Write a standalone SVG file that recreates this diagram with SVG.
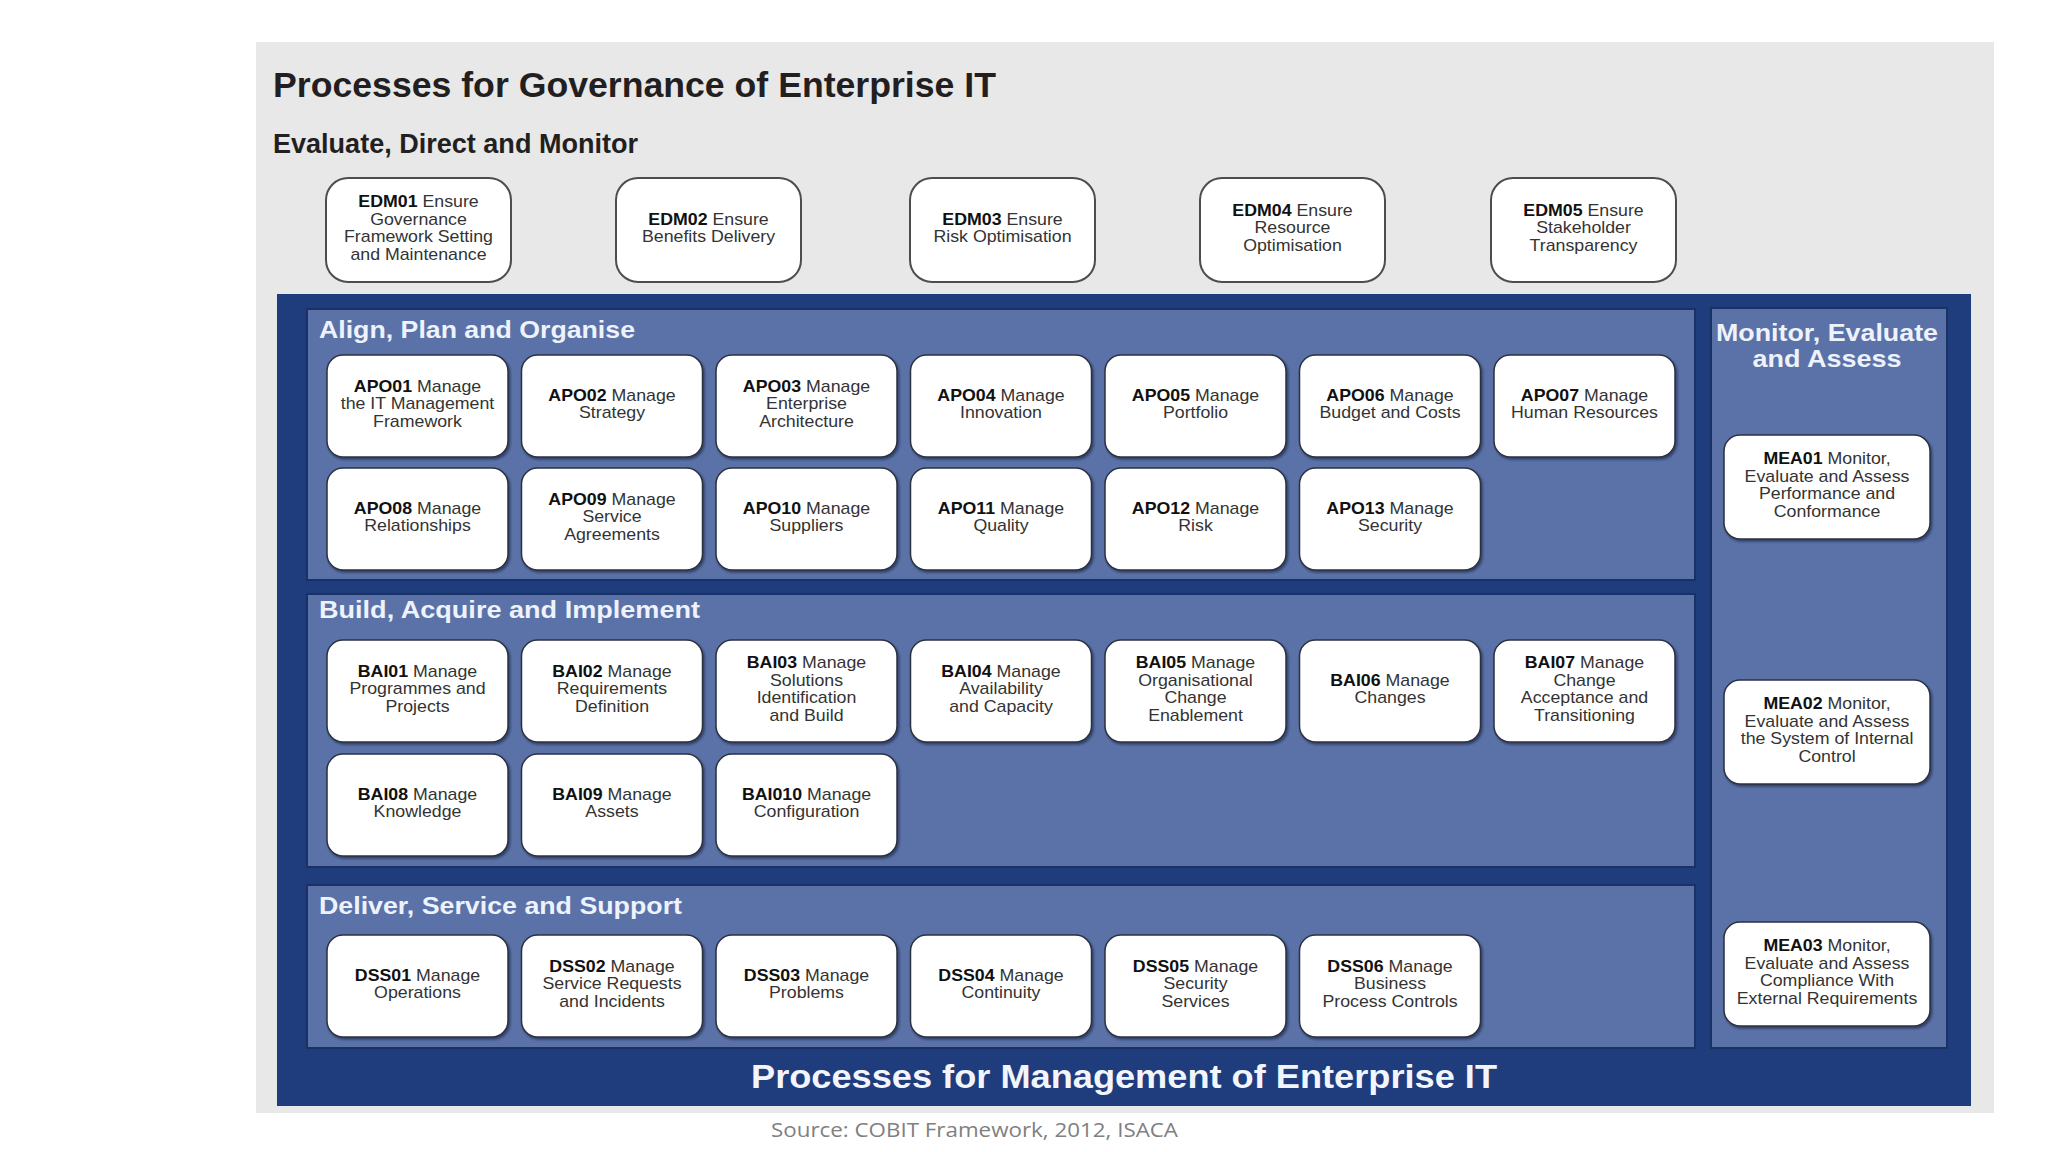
<svg xmlns="http://www.w3.org/2000/svg" width="2048" height="1152" viewBox="0 0 2048 1152">
<defs>
<filter id="sh" x="-10%" y="-10%" width="125%" height="125%">
<feDropShadow dx="1.5" dy="2" stdDeviation="1.2" flood-color="#0b1a3a" flood-opacity="0.6"/>
</filter>
</defs>
<style>
.bg{fill:#ffffff}
.grey{fill:#e8e8e9}
.navy{fill:#1f3c7c}
.panel{fill:#5b72a8;stroke:#1a3164;stroke-width:2}
.edm{fill:#ffffff;stroke:#4d4d4d;stroke-width:2}
.box{fill:#ffffff;stroke:#2c3140;stroke-width:1.5;filter:url(#sh)}
.nt{font-family:"Liberation Sans",Arial,sans-serif;font-size:16px;fill:#333333;text-anchor:middle}
.b{font-weight:bold;fill:#111111}
.h1{font-family:"Liberation Sans",Arial,sans-serif;font-weight:bold;fill:#231f20}
.sec{font-family:"Liberation Sans",Arial,sans-serif;font-weight:bold;font-size:24px;fill:#eef2fb}
.foot{font-family:"Liberation Sans",Arial,sans-serif;font-weight:bold;font-size:33px;fill:#f2f5fc}
.src{font-family:"Open Sans","Liberation Sans",Arial,sans-serif;font-size:20px;fill:#808080}
</style>
<rect class="bg" x="0" y="0" width="2048" height="1152"/>
<rect class="grey" x="256" y="42" width="1738" height="1071"/>
<text class="h1" x="273" y="97" font-size="35" textLength="723" lengthAdjust="spacingAndGlyphs">Processes for Governance of Enterprise IT</text>
<text class="h1" x="273" y="153" font-size="28" textLength="365" lengthAdjust="spacingAndGlyphs">Evaluate, Direct and Monitor</text>

<rect class="navy" x="277" y="294" width="1694" height="812"/>
<g id="panel-apo"><rect class="panel" x="307" y="309" width="1388" height="271"/>
<text class="sec" x="319" y="338" textLength="316" lengthAdjust="spacingAndGlyphs">Align, Plan and Organise</text></g>
<g id="panel-bai"><rect class="panel" x="307" y="594" width="1388" height="273"/>
<text class="sec" x="319" y="618" textLength="381" lengthAdjust="spacingAndGlyphs">Build, Acquire and Implement</text></g>
<g id="panel-dss"><rect class="panel" x="307" y="885" width="1388" height="163"/>
<text class="sec" x="319" y="914" textLength="363" lengthAdjust="spacingAndGlyphs">Deliver, Service and Support</text></g>
<g id="panel-mea"><rect class="panel" x="1711" y="308" width="236" height="740"/>
<text class="sec" x="1827" y="341" text-anchor="middle" textLength="222" lengthAdjust="spacingAndGlyphs">Monitor, Evaluate</text>
<text class="sec" x="1827" y="367" text-anchor="middle" textLength="149" lengthAdjust="spacingAndGlyphs">and Assess</text></g>
<text class="foot" x="751" y="1088" textLength="746" lengthAdjust="spacingAndGlyphs">Processes for Management of Enterprise IT</text>
<text class="src" x="771" y="1137" textLength="407" lengthAdjust="spacingAndGlyphs">Source: COBIT Framework, 2012, ISACA</text>

<g id="connectors"></g>

<!-- EDM -->
<g id="EDM01"><rect class="edm" x="326" y="178" width="185" height="104" rx="22"/>
<g class="nt" transform="translate(418.5 0) scale(1.11 1)"><text x="0" y="207"><tspan class="b">EDM01</tspan> Ensure</text><text x="0" y="224.7">Governance</text><text x="0" y="242.4">Framework Setting</text><text x="0" y="260.1">and Maintenance</text></g></g>
<g id="EDM02"><rect class="edm" x="616" y="178" width="185" height="104" rx="22"/>
<g class="nt" transform="translate(708.5 0) scale(1.11 1)"><text x="0" y="224.7"><tspan class="b">EDM02</tspan> Ensure</text><text x="0" y="242.4">Benefits Delivery</text></g></g>
<g id="EDM03"><rect class="edm" x="910" y="178" width="185" height="104" rx="22"/>
<g class="nt" transform="translate(1002.5 0) scale(1.11 1)"><text x="0" y="224.7"><tspan class="b">EDM03</tspan> Ensure</text><text x="0" y="242.4">Risk Optimisation</text></g></g>
<g id="EDM04"><rect class="edm" x="1200" y="178" width="185" height="104" rx="22"/>
<g class="nt" transform="translate(1292.5 0) scale(1.11 1)"><text x="0" y="215.8"><tspan class="b">EDM04</tspan> Ensure</text><text x="0" y="233.5">Resource</text><text x="0" y="251.2">Optimisation</text></g></g>
<g id="EDM05"><rect class="edm" x="1491" y="178" width="185" height="104" rx="22"/>
<g class="nt" transform="translate(1583.5 0) scale(1.11 1)"><text x="0" y="215.8"><tspan class="b">EDM05</tspan> Ensure</text><text x="0" y="233.5">Stakeholder</text><text x="0" y="251.2">Transparency</text></g></g>

<!-- APO row 1 -->
<g id="APO01"><rect class="box" x="327" y="355" width="181" height="102" rx="16"/>
<g class="nt" transform="translate(417.5 0) scale(1.11 1)"><text x="0" y="391.8"><tspan class="b">APO01</tspan> Manage</text><text x="0" y="409.5">the IT Management</text><text x="0" y="427.2">Framework</text></g></g>
<g id="APO02"><rect class="box" x="521.5" y="355" width="181" height="102" rx="16"/>
<g class="nt" transform="translate(612 0) scale(1.11 1)"><text x="0" y="400.7"><tspan class="b">APO02</tspan> Manage</text><text x="0" y="418.4">Strategy</text></g></g>
<g id="APO03"><rect class="box" x="716" y="355" width="181" height="102" rx="16"/>
<g class="nt" transform="translate(806.5 0) scale(1.11 1)"><text x="0" y="391.8"><tspan class="b">APO03</tspan> Manage</text><text x="0" y="409.5">Enterprise</text><text x="0" y="427.2">Architecture</text></g></g>
<g id="APO04"><rect class="box" x="910.5" y="355" width="181" height="102" rx="16"/>
<g class="nt" transform="translate(1001 0) scale(1.11 1)"><text x="0" y="400.7"><tspan class="b">APO04</tspan> Manage</text><text x="0" y="418.4">Innovation</text></g></g>
<g id="APO05"><rect class="box" x="1105" y="355" width="181" height="102" rx="16"/>
<g class="nt" transform="translate(1195.5 0) scale(1.11 1)"><text x="0" y="400.7"><tspan class="b">APO05</tspan> Manage</text><text x="0" y="418.4">Portfolio</text></g></g>
<g id="APO06"><rect class="box" x="1299.5" y="355" width="181" height="102" rx="16"/>
<g class="nt" transform="translate(1390 0) scale(1.11 1)"><text x="0" y="400.7"><tspan class="b">APO06</tspan> Manage</text><text x="0" y="418.4">Budget and Costs</text></g></g>
<g id="APO07"><rect class="box" x="1494" y="355" width="181" height="102" rx="16"/>
<g class="nt" transform="translate(1584.5 0) scale(1.11 1)"><text x="0" y="400.7"><tspan class="b">APO07</tspan> Manage</text><text x="0" y="418.4">Human Resources</text></g></g>

<!-- APO row 2 -->
<g id="APO08"><rect class="box" x="327" y="468" width="181" height="102" rx="16"/>
<g class="nt" transform="translate(417.5 0) scale(1.11 1)"><text x="0" y="513.7"><tspan class="b">APO08</tspan> Manage</text><text x="0" y="531.4">Relationships</text></g></g>
<g id="APO09"><rect class="box" x="521.5" y="468" width="181" height="102" rx="16"/>
<g class="nt" transform="translate(612 0) scale(1.11 1)"><text x="0" y="504.8"><tspan class="b">APO09</tspan> Manage</text><text x="0" y="522.5">Service</text><text x="0" y="540.2">Agreements</text></g></g>
<g id="APO10"><rect class="box" x="716" y="468" width="181" height="102" rx="16"/>
<g class="nt" transform="translate(806.5 0) scale(1.11 1)"><text x="0" y="513.7"><tspan class="b">APO10</tspan> Manage</text><text x="0" y="531.4">Suppliers</text></g></g>
<g id="APO11"><rect class="box" x="910.5" y="468" width="181" height="102" rx="16"/>
<g class="nt" transform="translate(1001 0) scale(1.11 1)"><text x="0" y="513.7"><tspan class="b">APO11</tspan> Manage</text><text x="0" y="531.4">Quality</text></g></g>
<g id="APO12"><rect class="box" x="1105" y="468" width="181" height="102" rx="16"/>
<g class="nt" transform="translate(1195.5 0) scale(1.11 1)"><text x="0" y="513.7"><tspan class="b">APO12</tspan> Manage</text><text x="0" y="531.4">Risk</text></g></g>
<g id="APO13"><rect class="box" x="1299.5" y="468" width="181" height="102" rx="16"/>
<g class="nt" transform="translate(1390 0) scale(1.11 1)"><text x="0" y="513.7"><tspan class="b">APO13</tspan> Manage</text><text x="0" y="531.4">Security</text></g></g>

<!-- BAI row 1 -->
<g id="BAI01"><rect class="box" x="327" y="640" width="181" height="102" rx="16"/>
<g class="nt" transform="translate(417.5 0) scale(1.11 1)"><text x="0" y="676.8"><tspan class="b">BAI01</tspan> Manage</text><text x="0" y="694.5">Programmes and</text><text x="0" y="712.2">Projects</text></g></g>
<g id="BAI02"><rect class="box" x="521.5" y="640" width="181" height="102" rx="16"/>
<g class="nt" transform="translate(612 0) scale(1.11 1)"><text x="0" y="676.8"><tspan class="b">BAI02</tspan> Manage</text><text x="0" y="694.5">Requirements</text><text x="0" y="712.2">Definition</text></g></g>
<g id="BAI03"><rect class="box" x="716" y="640" width="181" height="102" rx="16"/>
<g class="nt" transform="translate(806.5 0) scale(1.11 1)"><text x="0" y="668"><tspan class="b">BAI03</tspan> Manage</text><text x="0" y="685.7">Solutions</text><text x="0" y="703.4">Identification</text><text x="0" y="721.1">and Build</text></g></g>
<g id="BAI04"><rect class="box" x="910.5" y="640" width="181" height="102" rx="16"/>
<g class="nt" transform="translate(1001 0) scale(1.11 1)"><text x="0" y="676.8"><tspan class="b">BAI04</tspan> Manage</text><text x="0" y="694.5">Availability</text><text x="0" y="712.2">and Capacity</text></g></g>
<g id="BAI05"><rect class="box" x="1105" y="640" width="181" height="102" rx="16"/>
<g class="nt" transform="translate(1195.5 0) scale(1.11 1)"><text x="0" y="668"><tspan class="b">BAI05</tspan> Manage</text><text x="0" y="685.7">Organisational</text><text x="0" y="703.4">Change</text><text x="0" y="721.1">Enablement</text></g></g>
<g id="BAI06"><rect class="box" x="1299.5" y="640" width="181" height="102" rx="16"/>
<g class="nt" transform="translate(1390 0) scale(1.11 1)"><text x="0" y="685.7"><tspan class="b">BAI06</tspan> Manage</text><text x="0" y="703.4">Changes</text></g></g>
<g id="BAI07"><rect class="box" x="1494" y="640" width="181" height="102" rx="16"/>
<g class="nt" transform="translate(1584.5 0) scale(1.11 1)"><text x="0" y="668"><tspan class="b">BAI07</tspan> Manage</text><text x="0" y="685.7">Change</text><text x="0" y="703.4">Acceptance and</text><text x="0" y="721.1">Transitioning</text></g></g>

<!-- BAI row 2 -->
<g id="BAI08"><rect class="box" x="327" y="754" width="181" height="102" rx="16"/>
<g class="nt" transform="translate(417.5 0) scale(1.11 1)"><text x="0" y="799.7"><tspan class="b">BAI08</tspan> Manage</text><text x="0" y="817.4">Knowledge</text></g></g>
<g id="BAI09"><rect class="box" x="521.5" y="754" width="181" height="102" rx="16"/>
<g class="nt" transform="translate(612 0) scale(1.11 1)"><text x="0" y="799.7"><tspan class="b">BAI09</tspan> Manage</text><text x="0" y="817.4">Assets</text></g></g>
<g id="BAI10"><rect class="box" x="716" y="754" width="181" height="102" rx="16"/>
<g class="nt" transform="translate(806.5 0) scale(1.11 1)"><text x="0" y="799.7"><tspan class="b">BAI010</tspan> Manage</text><text x="0" y="817.4">Configuration</text></g></g>

<!-- DSS -->
<g id="DSS01"><rect class="box" x="327" y="935" width="181" height="102" rx="16"/>
<g class="nt" transform="translate(417.5 0) scale(1.11 1)"><text x="0" y="980.7"><tspan class="b">DSS01</tspan> Manage</text><text x="0" y="998.4">Operations</text></g></g>
<g id="DSS02"><rect class="box" x="521.5" y="935" width="181" height="102" rx="16"/>
<g class="nt" transform="translate(612 0) scale(1.11 1)"><text x="0" y="971.8"><tspan class="b">DSS02</tspan> Manage</text><text x="0" y="989.5">Service Requests</text><text x="0" y="1007.2">and Incidents</text></g></g>
<g id="DSS03"><rect class="box" x="716" y="935" width="181" height="102" rx="16"/>
<g class="nt" transform="translate(806.5 0) scale(1.11 1)"><text x="0" y="980.7"><tspan class="b">DSS03</tspan> Manage</text><text x="0" y="998.4">Problems</text></g></g>
<g id="DSS04"><rect class="box" x="910.5" y="935" width="181" height="102" rx="16"/>
<g class="nt" transform="translate(1001 0) scale(1.11 1)"><text x="0" y="980.7"><tspan class="b">DSS04</tspan> Manage</text><text x="0" y="998.4">Continuity</text></g></g>
<g id="DSS05"><rect class="box" x="1105" y="935" width="181" height="102" rx="16"/>
<g class="nt" transform="translate(1195.5 0) scale(1.11 1)"><text x="0" y="971.8"><tspan class="b">DSS05</tspan> Manage</text><text x="0" y="989.5">Security</text><text x="0" y="1007.2">Services</text></g></g>
<g id="DSS06"><rect class="box" x="1299.5" y="935" width="181" height="102" rx="16"/>
<g class="nt" transform="translate(1390 0) scale(1.11 1)"><text x="0" y="971.8"><tspan class="b">DSS06</tspan> Manage</text><text x="0" y="989.5">Business</text><text x="0" y="1007.2">Process Controls</text></g></g>

<!-- MEA -->
<g id="MEA01"><rect class="box" x="1724" y="435" width="206" height="104" rx="16"/>
<g class="nt" transform="translate(1827 0) scale(1.11 1)"><text x="0" y="464"><tspan class="b">MEA01</tspan> Monitor,</text><text x="0" y="481.7">Evaluate and Assess</text><text x="0" y="499.4">Performance and</text><text x="0" y="517.1">Conformance</text></g></g>
<g id="MEA02"><rect class="box" x="1724" y="680" width="206" height="104" rx="16"/>
<g class="nt" transform="translate(1827 0) scale(1.11 1)"><text x="0" y="709"><tspan class="b">MEA02</tspan> Monitor,</text><text x="0" y="726.7">Evaluate and Assess</text><text x="0" y="744.4">the System of Internal</text><text x="0" y="762.1">Control</text></g></g>
<g id="MEA03"><rect class="box" x="1724" y="922" width="206" height="104" rx="16"/>
<g class="nt" transform="translate(1827 0) scale(1.11 1)"><text x="0" y="951"><tspan class="b">MEA03</tspan> Monitor,</text><text x="0" y="968.7">Evaluate and Assess</text><text x="0" y="986.4">Compliance With</text><text x="0" y="1004.1">External Requirements</text></g></g>
</svg>
